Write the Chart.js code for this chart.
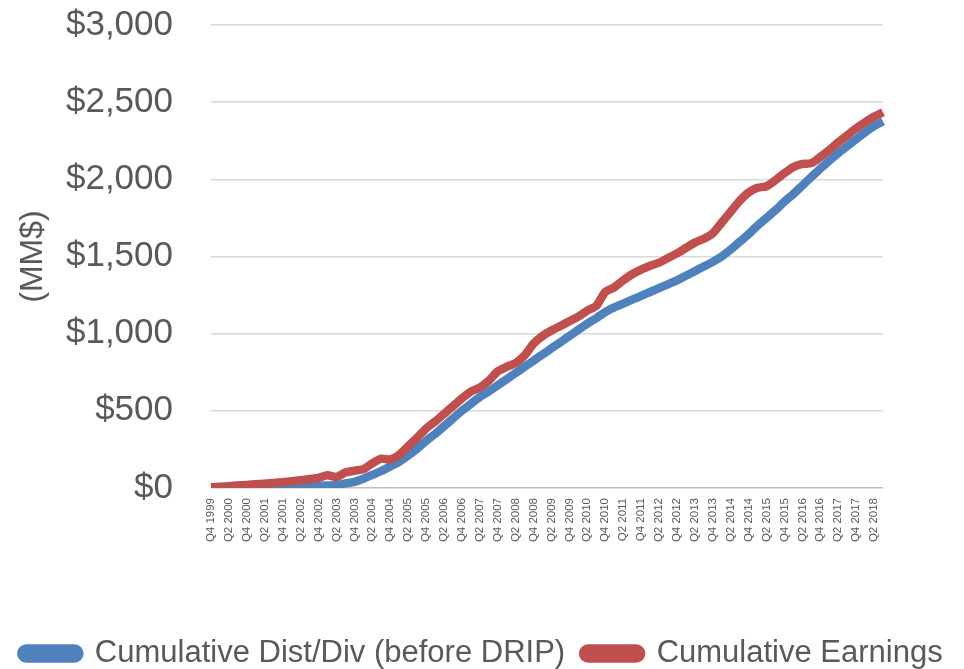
<!DOCTYPE html>
<html>
<head>
<meta charset="utf-8">
<script src="https://cdn.jsdelivr.net/npm/chart.js@4.4.1/dist/chart.umd.min.js"></script>
<style>
  html, body { margin: 0; padding: 0; background: #fff; overflow: hidden; }
  /* a little taller than the window so the legend sits lower */
  #wrap { width: 964px; height: 679px; }
</style>
</head>
<body>
<div id="wrap"><canvas id="cum-chart"></canvas></div>
<script>
// quarters Q4 1999 .. Q3 2018
let quarters = ['Q4 1999',
  'Q1 2000', 'Q2 2000', 'Q3 2000', 'Q4 2000',
  'Q1 2001', 'Q2 2001', 'Q3 2001', 'Q4 2001',
  'Q1 2002', 'Q2 2002', 'Q3 2002', 'Q4 2002',
  'Q1 2003', 'Q2 2003', 'Q3 2003', 'Q4 2003',
  'Q1 2004', 'Q2 2004', 'Q3 2004', 'Q4 2004',
  'Q1 2005', 'Q2 2005', 'Q3 2005', 'Q4 2005',
  'Q1 2006', 'Q2 2006', 'Q3 2006', 'Q4 2006',
  'Q1 2007', 'Q2 2007', 'Q3 2007', 'Q4 2007',
  'Q1 2008', 'Q2 2008', 'Q3 2008', 'Q4 2008',
  'Q1 2009', 'Q2 2009', 'Q3 2009', 'Q4 2009',
  'Q1 2010', 'Q2 2010', 'Q3 2010', 'Q4 2010',
  'Q1 2011', 'Q2 2011', 'Q3 2011', 'Q4 2011',
  'Q1 2012', 'Q2 2012', 'Q3 2012', 'Q4 2012',
  'Q1 2013', 'Q2 2013', 'Q3 2013', 'Q4 2013',
  'Q1 2014', 'Q2 2014', 'Q3 2014', 'Q4 2014',
  'Q1 2015', 'Q2 2015', 'Q3 2015', 'Q4 2015',
  'Q1 2016', 'Q2 2016', 'Q3 2016', 'Q4 2016',
  'Q1 2017', 'Q2 2017', 'Q3 2017', 'Q4 2017',
  'Q1 2018', 'Q2 2018', 'Q3 2018'];

// cumulative distributions / dividends (MM$)
let distDiv = [0,
  1, 2, 3, 4,
  5, 6, 7, 8,
  9, 10, 12, 14,
  16, 20, 30, 40,
  60, 85, 110, 140,
  170, 210, 255, 305,
  350, 400, 450, 500,
  545, 590, 625, 665,
  705, 745, 785, 825,
  865, 905, 945, 985,
  1025, 1065, 1100, 1140,
  1170, 1195, 1220, 1245,
  1270, 1295, 1320, 1345,
  1375, 1405, 1435, 1465,
  1500, 1545, 1595, 1645,
  1700, 1750, 1800, 1855,
  1905, 1960, 2015, 2070,
  2120, 2170, 2215, 2260,
  2305, 2345, 2375];

// cumulative earnings (MM$)
let earnings = [5,
  8, 12, 16, 20,
  24, 28, 33, 38,
  44, 50, 58, 66,
  82, 72, 100, 112,
  122, 160, 190, 185,
  215, 270, 325, 385,
  430, 480, 530, 580,
  625, 650, 695, 755,
  785, 810, 860, 935,
  985, 1020, 1050, 1080,
  1110, 1150, 1180, 1270,
  1300, 1345, 1385, 1415,
  1440, 1460, 1490, 1520,
  1555, 1590, 1615, 1650,
  1720, 1790, 1860, 1915,
  1945, 1955, 1995, 2040,
  2080, 2100, 2105, 2145,
  2190, 2240, 2285, 2330,
  2370, 2405, 2435];

let blue = '#4F81BD';
let red = '#C0504D';
let grey = '#595959';

let ctx = document.getElementById('cum-chart').getContext('2d');
let cumChart = new Chart(ctx, {
  type: 'line',
  data: {
    labels: quarters,
    datasets: [{
      label: 'Cumulative Dist/Div (before DRIP)',
      data: distDiv,
      borderColor: blue,
      backgroundColor: blue,
      borderWidth: 8.5,
      pointRadius: 0,
      tension: 0.25,
      order: 1
    }, {
      label: 'Cumulative Earnings',
      data: earnings,
      borderColor: red,
      backgroundColor: red,
      borderWidth: 8.5,
      pointRadius: 0,
      tension: 0.25,
      order: 0
    }]
  },
  options: {
    responsive: true,
    maintainAspectRatio: false,
    animation: false,
    layout: { padding: 0 },
    plugins: {
      tooltip: { enabled: false },
      legend: {
        position: 'bottom',
        labels: {
          color: grey,
          font: { family: 'Liberation Sans', size: 31 },
          boxWidth: 58,
          boxHeight: 10,
          useBorderRadius: true,
          borderRadius: 5,
          padding: 18,
          sort: (a, b) => a.datasetIndex - b.datasetIndex
        }
      }
    },
    scales: {
      x: {
        grid: { display: false },
        border: { display: false },
        ticks: {
          autoSkip: false,
          minRotation: 90,
          maxRotation: 90,
          padding: 2,
          color: grey,
          font: { family: 'Liberation Sans', size: 11.5 },
          callback: function (val, idx) {
            return idx % 2 === 0 ? quarters[idx] : null;
          }
        },
        afterFit: function (scale) { scale.height = 132; }
      },
      y: {
        min: 0,
        max: 3000,
        border: { display: false },
        grid: {
          drawTicks: false,
          color: (c) => c.tick && c.tick.value === 0 ? '#BFBFBF' : '#D9D9D9',
          lineWidth: 1.5
        },
        ticks: {
          stepSize: 500,
          padding: 38,
          color: grey,
          font: { family: 'Liberation Sans', size: 35 },
          callback: (v) => '$' + v.toLocaleString('en-US')
        },
        title: {
          display: true,
          text: '(MM$)',
          color: grey,
          font: { family: 'Liberation Sans', size: 32 },
          padding: { top: 14, bottom: 0 }
        },
        afterFit: function (scale) {
          scale.width = 211;
          // tick padding would otherwise push the plot down
          scale.paddingTop = 25;
          scale.paddingBottom = 0;
        }
      },
      // empty right-hand strip so the plot stops short of the edge
      side: {
        position: 'right',
        display: true,
        grid: { display: false },
        border: { display: false },
        ticks: { display: false },
        afterFit: function (scale) { scale.width = 81; }
      }
    }
  }
});
</script>
</body>
</html>
